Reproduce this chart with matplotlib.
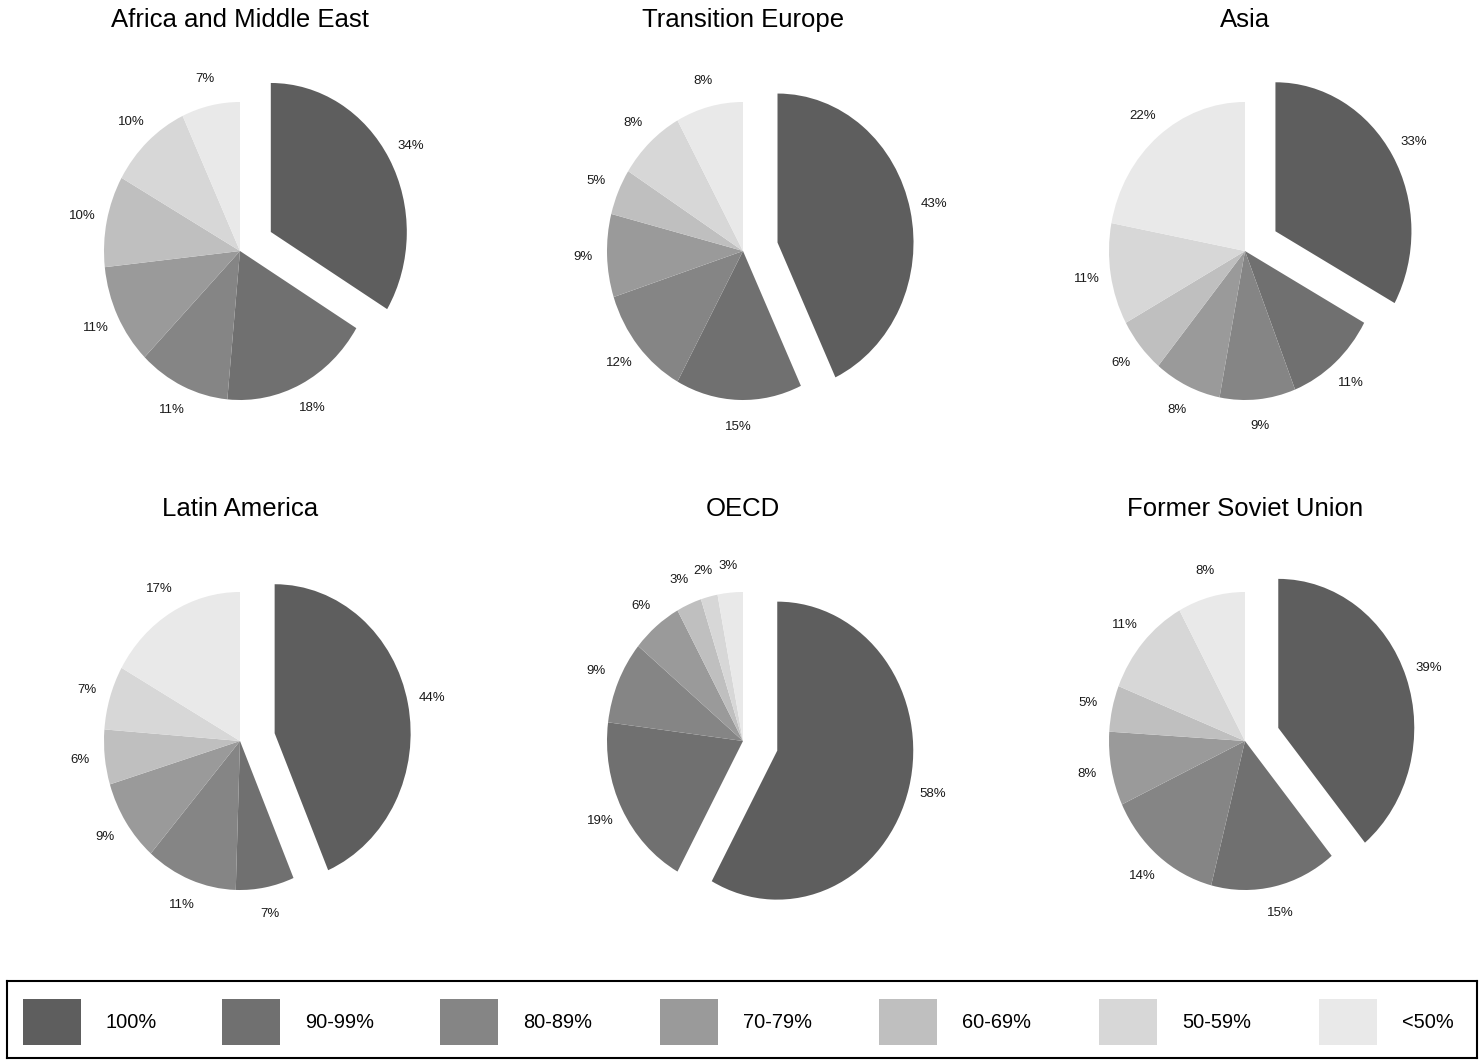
import matplotlib
matplotlib.use("Agg")
import matplotlib.pyplot as plt
from matplotlib.patches import Rectangle

plt.rcParams['font.family'] = ['Liberation Sans', 'DejaVu Sans']

# share of output by capacity-utilisation band, per region
categories = ['100%', '90-99%', '80-89%', '70-79%', '60-69%', '50-59%', '<50%']
colors = ['#5e5e5e', '#707070', '#858585', '#9a9a9a', '#bfbfbf', '#d7d7d7', '#e9e9e9']

regions = ['Africa and Middle East', 'Transition Europe', 'Asia',
           'Latin America', 'OECD', 'Former Soviet Union']
africa = [34, 18, 11, 11, 10, 10, 7]
trans_europe = [43, 15, 12, 9, 5, 8, 8]
asia = [33, 11, 9, 8, 6, 11, 22]
latin_america = [44, 7, 11, 9, 6, 7, 17]
oecd = [58, 19, 9, 6, 3, 2, 3]
fsu = [39, 15, 14, 8, 5, 11, 8]
values = [africa, trans_europe, asia, latin_america, oecd, fsu]

W, H = 1484, 1062
fig = plt.figure(figsize=(W / 100, H / 100), dpi=100)

# pie centres in pixels; the pies are drawn slightly squashed horizontally
centres_x = [240, 743, 1245]
centres_y = [251, 741]
title_y = [20, 509]
box = 400
rx, ry = 136, 149

for i, (name, vals) in enumerate(zip(regions, values)):
    row, col = divmod(i, 3)
    cx, cy = centres_x[col], centres_y[row]
    ax = fig.add_axes([(cx - box / 2) / W, 1 - (cy + box / 2) / H, box / W, box / H])
    explode = [0.26] + [0] * (len(vals) - 1)
    ax.pie(vals, colors=colors, startangle=90, counterclock=False,
           explode=explode, autopct=lambda p: f'{p:.0f}%', pctdistance=1.18,
           wedgeprops=dict(linewidth=0), textprops=dict(fontsize=9.5, color='#1a1a1a'),
           normalize=True)
    ax.set_aspect('auto')
    ax.set_xlim(-box / 2 / rx, box / 2 / rx)
    ax.set_ylim(-box / 2 / ry, box / 2 / ry)
    ax.axis('off')
    fig.text(cx / W, 1 - title_y[row] / H, name, ha='center', va='center', fontsize=18.5)

# legend box
lx0, ly0, lx1, ly1 = 7, 981, 1477, 1058
lax = fig.add_axes([lx0 / W, 1 - ly1 / H, (lx1 - lx0) / W, (ly1 - ly0) / H])
lax.set_xlim(lx0, lx1)
lax.set_ylim(ly1, ly0)
lax.set_xticks([])
lax.set_yticks([])
for s in lax.spines.values():
    s.set_linewidth(1.5)
swatch_x = [23, 222, 440, 660, 879, 1099, 1319]
for sx, lab, c in zip(swatch_x, categories, colors):
    lax.add_patch(Rectangle((sx, 999), 58, 46, color=c, lw=0))
    lax.text(sx + 83, 1023, lab, ha='left', va='center', fontsize=14.4)

fig.savefig('out.png', dpi=100)
